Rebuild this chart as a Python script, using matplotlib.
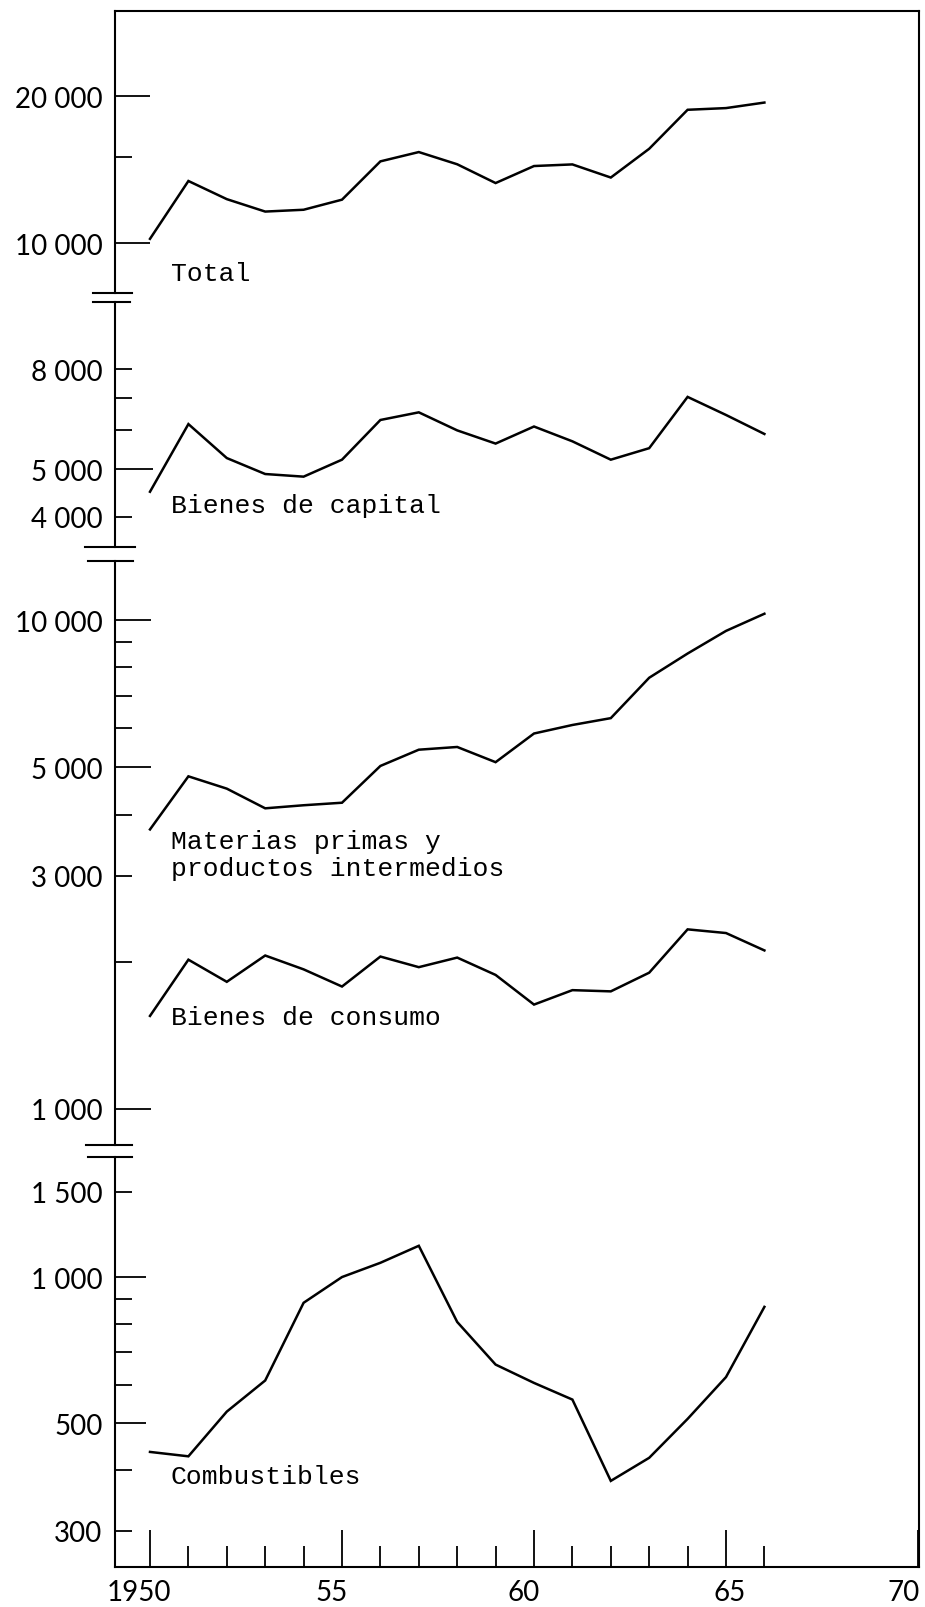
import matplotlib
matplotlib.use("Agg")
import matplotlib.pyplot as plt
from matplotlib.lines import Line2D
from matplotlib.transforms import ScaledTranslation

# ---------------- data ----------------
years = [1950, 1951, 1952, 1953, 1954, 1955, 1956, 1957, 1958,
         1959, 1960, 1961, 1962, 1963, 1964, 1965, 1966]
total = [10200, 13400, 12300, 11600, 11700, 12270, 14700, 15360, 14500,
         13270, 14380, 14490, 13620, 15600, 18750, 18900, 19400]
capital = [4500, 6180, 5270, 4890, 4830, 5230, 6300, 6530, 6000,
           5640, 6110, 5700, 5230, 5520, 7020, 6450, 5900]
materias = [3730, 4790, 4520, 4120, 4180, 4230, 5030, 5430, 5500,
            5120, 5860, 6100, 6300, 7620, 8540, 9500, 10300]
consumo = [1550, 2020, 1820, 2060, 1930, 1780, 2050, 1950, 2040,
           1880, 1635, 1750, 1740, 1900, 2330, 2290, 2110]
combustibles = [436, 427, 528, 612, 885, 1000, 1070, 1160, 808,
                660, 605, 559, 380, 424, 510, 622, 868]

x_major = [1950, 1955, 1960, 1965, 1970]
x_major_labels = ["1950", "55", "60", "65", "70"]
x_minor = [1951, 1952, 1953, 1954, 1956, 1957, 1958, 1959,
           1961, 1962, 1963, 1964, 1966]

label_total = "Total"
label_capital = "Bienes de capital"
label_materias = "Materias primas y\nproductos intermedios"
label_consumo = "Bienes de consumo"
label_combust = "Combustibles"

# ---------------- layout helpers ----------------
W, H = 925, 1608
fig = plt.figure(figsize=(W / 100, H / 100), dpi=100)
fig.patch.set_facecolor("white")

def fx(px):
    return px / W

def fy(py):
    return 1 - py / H

AX_L, AX_R = 115, 919          # pixel x of left axis / right border
X1950_PX, PX_PER_YEAR = 150, 38.4
xlim = (1950 + (AX_L - X1950_PX) / PX_PER_YEAR,
        1950 + (AX_R - X1950_PX) / PX_PER_YEAR)

TOP, BOTTOM = 12, 1568
LW = 1.5
TICK_FONT = ["Lato", "DejaVu Sans"]
LABEL_FONT = ["Liberation Mono", "DejaVu Sans Mono"]

# ---------------- frame axes (x axis + border) ----------------
frame = fig.add_axes([fx(AX_L), fy(BOTTOM), fx(AX_R - AX_L), (BOTTOM - TOP) / H])
frame.set_xlim(*xlim)
frame.set_ylim(0, 1)
frame.spines["left"].set_visible(False)
for s in ["top", "right", "bottom"]:
    frame.spines[s].set_linewidth(LW)
frame.set_yticks([])
frame.set_xticks(x_major, labels=x_major_labels)
frame.set_xticks(x_minor, minor=True)
frame.tick_params(axis="x", which="major", direction="in", length=27, width=1.3,
                  pad=9, labelsize=20)
frame.tick_params(axis="x", which="minor", direction="in", length=15, width=1.3)
label_shift_px = [-11, -10, -10, 4, -14]
for t, dx in zip(frame.get_xticklabels(), label_shift_px):
    t.set_family(TICK_FONT)
    t.set_transform(t.get_transform() +
                    ScaledTranslation(dx / 100, 0, fig.dpi_scale_trans))

# ---------------- panels ----------------
def make_panel(top_px, bot_px, ylim, major, major_lab, minor, minor_lab, major_len):
    ax = fig.add_axes([fx(AX_L), fy(bot_px), fx(AX_R - AX_L), (bot_px - top_px) / H])
    ax.set_facecolor("none")
    ax.set_xlim(*xlim)
    ax.set_yscale("log")
    ax.set_ylim(*ylim)
    for s in ["top", "right", "bottom"]:
        ax.spines[s].set_visible(False)
    ax.spines["left"].set_linewidth(LW)
    ax.tick_params(axis="x", which="both", bottom=False, labelbottom=False)
    ax.set_yticks(major, labels=major_lab)
    ax.set_yticks(minor, labels=minor_lab, minor=True)
    ax.tick_params(axis="y", which="major", direction="in", length=major_len,
                   width=1.3, pad=9, labelsize=20)
    ax.tick_params(axis="y", which="minor", direction="in", length=12,
                   width=1.3, pad=9, labelsize=20)
    for t in ax.get_yticklabels(which="both"):
        t.set_family(TICK_FONT)
    return ax

axA = make_panel(TOP, 294, (7900, 29880),
                 [10000, 20000], ["10 000", "20 000"],
                 [15000], [""], 25)
axB = make_panel(303, 548, (3473, 10954),
                 [5000], ["5 000"],
                 [4000, 6000, 7000, 8000], ["4 000", "", "", "8 000"], 27)
axC = make_panel(562, 1146, (844, 13204),
                 [1000, 5000, 10000], ["1 000", "5 000", "10 000"],
                 [2000, 3000, 4000, 6000, 7000, 8000, 9000],
                 ["", "3 000", "", "", "", "", ""], 26)
axD = make_panel(1158, BOTTOM, (252.5, 1768),
                 [500, 1000], ["500", "1 000"],
                 [300, 400, 600, 700, 800, 900, 1500],
                 ["300", "", "", "", "", "", "1 500"], 22)

line_kw = dict(color="black", lw=1.8, solid_joinstyle="miter")
axA.plot(years, total, **line_kw)
axB.plot(years, capital, **line_kw)
axC.plot(years, materias, **line_kw)
axC.plot(years, consumo, **line_kw)
axD.plot(years, combustibles, **line_kw)

txt_kw = dict(ha="left", va="center", fontsize=19, family=LABEL_FONT, color="black")
xlab = 1950 + (171 - X1950_PX) / PX_PER_YEAR
axA.text(xlab, 8680, label_total, **txt_kw)
axB.text(xlab, 4227, label_capital, **txt_kw)
axC.text(xlab, 3314, label_materias, linespacing=1.2, **txt_kw)
axC.text(xlab, 1542, label_consumo, **txt_kw)
axD.text(xlab, 389, label_combust, **txt_kw)

# ---------------- axis break marks ----------------
breaks = [((93, 132), 294), ((93, 130), 303),
          ((85, 135), 548), ((88, 133), 562),
          ((86, 132), 1146), ((88, 132), 1158)]
for (x0, x1), yy in breaks:
    fig.add_artist(Line2D([fx(x0), fx(x1)], [fy(yy), fy(yy)],
                          color="black", lw=LW))

fig.savefig("out.png", dpi=100)
